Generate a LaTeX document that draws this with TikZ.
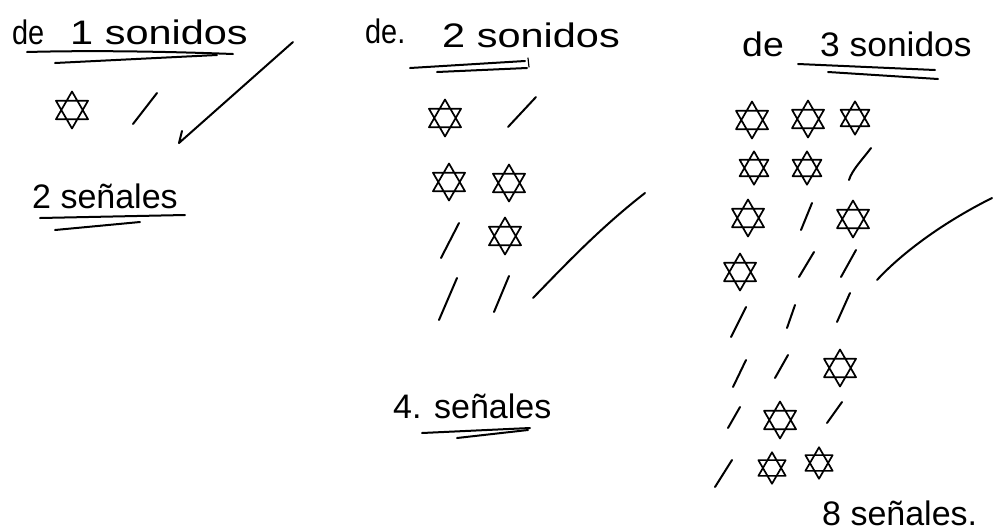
\documentclass[tikz,border=0pt]{standalone}
\usepackage{fontspec}
\setmainfont{Liberation Sans}
\begin{document}
\begin{tikzpicture}[x=1pt,y=-1pt,line cap=round,line join=round,
  ink/.style={line width=2pt,black},
  uline/.style={line width=2pt,black},
  txt/.style={inner sep=0pt,anchor=base west,font=\fontsize{34}{40}\selectfont},
  david/.pic={\draw[line width=1.7pt] (90:18.5)--(210:18.5)--(330:18.5)--cycle (270:18.5)--(30:18.5)--(150:18.5)--cycle;}]
\useasboundingbox (0,0) rectangle (993,531);

% ---------- panel 1 ----------
\node[txt,xscale=0.85] (t1a) at (12,44) {de};
\node[txt,xscale=1.22] (t1b) at (70,44) {1 sonidos};
\draw[uline] (27,52) .. controls (100,50) and (180,52) .. (233,54);
\draw[uline] (55,63) -- (217,55);
\pic (s1) at (72,110) {david};
\draw[ink] (133,124) -- (157,93);
\draw[ink] (182,131) -- (179,143) -- (293,42);
\node[txt] (c1) at (32,208) {2 señales};
\draw[uline] (40,218) -- (185,215);
\draw[uline] (55,230) -- (140,222);

% ---------- panel 2 ----------
\node[txt,xscale=0.85] (t2a) at (365,43) {de.};
\node[txt,xscale=1.22] (t2b) at (442,47) {2 sonidos};
\draw[uline] (410,68) -- (525,61);
\draw[uline] (437,72) -- (527,68);
\draw[ink,line width=1.2pt] (528,58) -- (529,67);
\pic (s2a) at (445,118) {david};
\draw[ink] (508,127) -- (536,97);
\pic (s2b) at (449,182) {david};
\pic (s2c) at (509,183) {david};
\draw[ink] (441,258) -- (459,223);
\pic (s2d) at (505,236) {david};
\draw[ink] (439,320) -- (457,278);
\draw[ink] (494,312) -- (509,276);
\draw[ink] (533,298) .. controls (565,265) and (600,228) .. (645,193);
\node[txt] (c2) at (393,418) {4. señales};
\draw[uline] (422,433) -- (530,428);
\draw[uline] (457,438) -- (528,430);

% ---------- panel 3 ----------
\node[txt,xscale=1.1] (t3a) at (742,56) {de};
\node[txt,xscale=1.04] (t3b) at (820,56) {3 sonidos};
\draw[uline] (798,64) -- (935,70);
\draw[uline] (828,72) -- (938,79);
% row 1
\pic (s3a) at (752,120) {david};
\pic (s3b) at (808,119) {david};
\pic[scale=0.9] (s3c) at (855,118) {david};
% row 2
\pic[scale=0.9] (s3d) at (754,168) {david};
\pic[scale=0.9] (s3e) at (807,168) {david};
\draw[ink] (849,180) .. controls (852,170) and (862,160) .. (871,148);
% row 3
\pic (s3f) at (748,218) {david};
\draw[ink] (801,230) -- (812,203);
\pic (s3g) at (853,219) {david};
% row 4
\pic (s3h) at (740,272) {david};
\draw[ink] (799,277) -- (814,252);
\draw[ink] (841,277) -- (856,250);
% row 5
\draw[ink] (731,337) -- (746,307);
\draw[ink] (787,328) -- (795,305);
\draw[ink] (837,322) -- (850,293);
% row 6
\draw[ink] (733,387) -- (746,360);
\draw[ink] (775,378) -- (788,355);
\pic (s3i) at (840,368) {david};
% row 7
\draw[ink] (728,428) -- (740,407);
\pic (s3j) at (780,420) {david};
\draw[ink] (827,423) -- (842,402);
% row 8
\draw[ink] (715,487) -- (732,460);
\pic[scale=0.85] (s3k) at (772,468) {david};
\pic[scale=0.85] (s3l) at (819,463) {david};
\draw[ink] (877,280) .. controls (900,255) and (940,224) .. (992,198);
\node[txt] (c3) at (822,525) {8 señales.};
\end{tikzpicture}
\end{document}
